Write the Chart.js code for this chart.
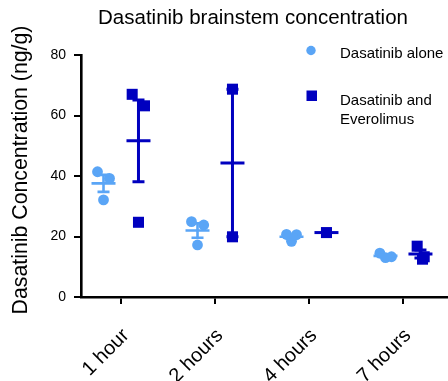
<!DOCTYPE html>
<html>
<head>
<meta charset="utf-8">
<script src="https://cdn.jsdelivr.net/npm/chart.js@4/dist/chart.umd.min.js"></script>
<style>
  html, body { margin: 0; padding: 0; background: #ffffff; }
  #wrap { width: 448px; height: 381px; position: relative; }
</style>
</head>
<body>
<div id="wrap"><canvas id="chart" width="448" height="381"></canvas></div>
<script>
// Time points after dosing
const categories = ['1 hour', '2 hours', '4 hours', '7 hours'];

// Brainstem concentration (ng/g), individual animals per time point
const aloneValues = [
  [41.4, 39.2, 32.1],
  [24.9, 23.8, 17.2],
  [20.7, 20.6, 18.4],
  [14.5, 13.3, 13.0]
];
const comboValues = [
  [67.0, 63.2, 24.7],
  [68.7, 19.9],
  [21.3],
  [16.8, 13.3, 12.5]
];

const yTicks = [0, 20, 40, 60, 80];
const seriesNames = ['Dasatinib alone', 'Dasatinib and Everolimus'];

// Styling and layout helpers
const LIGHT = '#5aa5f6';
const DARK = '#0000bf';
const FONT = "'Liberation Sans', Arial, sans-serif";
const GROUP_SHIFT = 0.186;            // sideways shift of each series inside a time point
const SPREAD = [                      // small horizontal scatter so dots do not overlap
  [[-0.064, 0.064, 0], [-0.064, 0.066, 0], [-0.053, 0.053, 0], [-0.06, 0.064, 0]],
  [[-0.067, 0.064, 0], [0, 0], [0], [-0.035, 0.04, 0.022]]
];

function toPoints(values, sign, s) {
  const pts = [];
  values.forEach((group, i) => {
    group.forEach((v, j) => {
      pts.push({ x: i + sign * GROUP_SHIFT + SPREAD[s][i][j], y: v });
    });
  });
  return pts;
}

function stats(arr) {
  const n = arr.length;
  const mean = arr.reduce((a, b) => a + b, 0) / n;
  if (n < 2) return { mean, sem: 0 };
  const sd = Math.sqrt(arr.reduce((a, b) => a + (b - mean) * (b - mean), 0) / (n - 1));
  return { mean, sem: sd / Math.sqrt(n) };
}

// Mean line with SEM whiskers for each group
const meanSemPlugin = {
  id: 'meanSem',
  afterDatasetsDraw(chart) {
    const { ctx, scales: { x, y } } = chart;
    const groups = [
      { values: aloneValues, sign: -1, color: LIGHT, lw: 2.6 },
      { values: comboValues, sign: 1, color: DARK, lw: 3 }
    ];
    ctx.save();
    groups.forEach(g => {
      ctx.strokeStyle = g.color;
      ctx.lineWidth = g.lw;
      ctx.lineCap = 'butt';
      g.values.forEach((arr, i) => {
        const { mean, sem } = stats(arr);
        const cx = x.getPixelForValue(i + g.sign * GROUP_SHIFT);
        const my = y.getPixelForValue(mean);
        ctx.beginPath();
        ctx.moveTo(cx - 12, my); ctx.lineTo(cx + 12, my);
        if (sem > 0) {
          const top = y.getPixelForValue(mean + sem);
          const bot = y.getPixelForValue(mean - sem);
          ctx.moveTo(cx, top); ctx.lineTo(cx, bot);
          ctx.moveTo(cx - 6, top); ctx.lineTo(cx + 6, top);
          ctx.moveTo(cx - 6, bot); ctx.lineTo(cx + 6, bot);
        }
        ctx.stroke();
      });
    });
    ctx.restore();
  }
};

// Title, vertical axis title and legend
const textPlugin = {
  id: 'texts',
  afterDraw(chart) {
    const ctx = chart.ctx;
    ctx.save();
    ctx.fillStyle = '#000';
    ctx.textBaseline = 'alphabetic';

    ctx.font = '20.5px ' + FONT;
    ctx.textAlign = 'center';
    ctx.fillText('Dasatinib brainstem concentration', 253, 24);

    ctx.save();
    ctx.translate(27, 170);
    ctx.rotate(-Math.PI / 2);
    ctx.font = '21.3px ' + FONT;
    ctx.fillText('Dasatinib Concentration (ng/g)', 0, 0);
    ctx.restore();

    // legend
    ctx.fillStyle = LIGHT;
    ctx.beginPath();
    ctx.arc(311, 50.5, 4.7, 0, Math.PI * 2);
    ctx.fill();
    ctx.fillStyle = DARK;
    ctx.fillRect(306.5, 90.5, 10.5, 10.5);

    ctx.fillStyle = '#000';
    ctx.font = '15px ' + FONT;
    ctx.textAlign = 'left';
    ctx.fillText(seriesNames[0], 340, 57.5);
    const words = seriesNames[1].split(' ');
    ctx.fillText(words.slice(0, 2).join(' '), 340, 104.5);
    ctx.fillText(words.slice(2).join(' '), 340, 124);
    ctx.restore();
  }
};

new Chart(document.getElementById('chart'), {
  type: 'scatter',
  data: {
    datasets: [
      {
        label: seriesNames[0],
        data: toPoints(aloneValues, -1, 0),
        backgroundColor: LIGHT,
        borderWidth: 0,
        pointStyle: 'circle',
        pointRadius: 5.4,
        pointHoverRadius: 5.4
      },
      {
        label: seriesNames[1],
        data: toPoints(comboValues, 1, 1),
        backgroundColor: DARK,
        borderWidth: 0,
        pointStyle: 'rect',
        pointRadius: 7.8,
        pointHoverRadius: 7.8
      }
    ]
  },
  options: {
    responsive: false,
    animation: false,
    events: [],
    layout: { autoPadding: false, padding: { top: 55, right: 0, bottom: 0, left: 0 } },
    plugins: {
      legend: { display: false },
      title: { display: false },
      tooltip: { enabled: false }
    },
    scales: {
      x: {
        type: 'linear',
        min: -0.4255,
        max: 3.479,
        afterBuildTicks: s => { s.ticks = categories.map((_, i) => ({ value: i })); },
        afterFit: s => { s.height = 84; s.paddingLeft = 0; s.paddingRight = 0; },
        border: { display: true, color: '#000', width: 2.6 },
        grid: { drawOnChartArea: false, drawTicks: true, tickLength: 7, color: '#000', lineWidth: 2 },
        ticks: {
          autoSkip: false,
          minRotation: 45,
          maxRotation: 45,
          padding: 20,
          labelOffset: 5,
          color: '#000',
          font: { family: FONT, size: 20 },
          callback: v => categories[v]
        }
      },
      y: {
        min: 0,
        max: 80,
        afterBuildTicks: s => { s.ticks = yTicks.map(v => ({ value: v })); },
        afterFit: s => { s.width = 81; },
        border: { display: true, color: '#000', width: 2.6 },
        grid: { drawOnChartArea: false, drawTicks: true, tickLength: 7, color: '#000', lineWidth: 2 },
        ticks: {
          padding: 8,
          color: '#000',
          font: { family: FONT, size: 14 }
        }
      }
    }
  },
  plugins: [meanSemPlugin, textPlugin]
});
</script>
</body>
</html>
